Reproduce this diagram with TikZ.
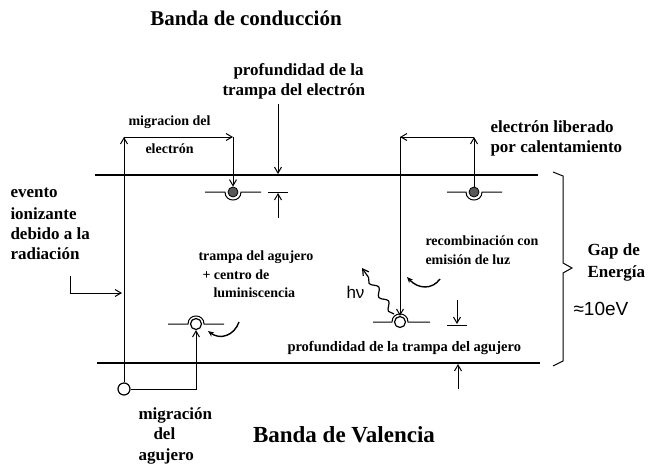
\documentclass[tikz,border=0pt]{standalone}
\usepackage{fontspec}
\setmainfont{Liberation Serif}
\newfontfamily\sansfont{Liberation Sans}
\usetikzlibrary{arrows.meta,decorations.pathmorphing}

\begin{document}
\begin{tikzpicture}[x=1pt,y=-1pt,
	>={Straight Barb[length=6pt,width=7pt]},
	every path/.style={line width=1pt},
	band/.style={line width=1.8pt},
	lbl/.style={anchor=mid west,inner sep=0pt,font=\bfseries\fontsize{#1}{#1}\selectfont},
	lbl/.default=14,
	title/.style={anchor=mid,inner sep=0pt,font=\bfseries\fontsize{#1}{#1}\selectfont},
	electron/.style={circle,draw,fill=black!65,inner sep=0pt,minimum size=10pt,line width=0.8pt},
	hole/.style={circle,draw,fill=white,inner sep=0pt,minimum size=11pt,line width=1.2pt},
	bent/.style={->,>={Stealth[length=6pt,width=5pt]},line width=1.4pt}]
\useasboundingbox (0,0) rectangle (651,467);

% bandas
\draw[band] (95,175) -- (538,175);
\draw[band] (97,363) -- (540,363);

% trampas
\draw (205,192) -- (225,192) .. controls (225,202.7) and (241,202.7) .. (241,192) -- (261,192);
\draw (447,192) -- (466,192) .. controls (466,202.7) and (482,202.7) .. (482,192) -- (502,192);
\draw (168,324) -- (188,324) .. controls (188,313.3) and (204,313.3) .. (204,324) -- (224,324);
\draw (373,322) -- (392,322) .. controls (392,311.3) and (408,311.3) .. (408,322) -- (430,322);
\node[electron] (etrapA) at (233,192) {};
\node[electron] (etrapB) at (474,192) {};
\node[hole] (htrapA) at (196,324) {};
\node[hole] (htrapB) at (400,322) {};
\node[hole,minimum size=12pt] (hstart) at (124,389) {};

% migracion del electron
\coordinate (upL) at (124,137);
\coordinate (upR) at (233,137);
\draw[->] (hstart) -- (upL);
\draw[->] (upL) -- (upR);
\draw[->] (upR) -- (etrapA);

% migracion del agujero
\draw[->] (hstart) -| (htrapA);

% electron liberado
\coordinate (relB) at (474,137);
\coordinate (relA) at (400,137);
\draw[->] (etrapB) -- (relB);
\draw[->] (relB) -- (relA);
\draw[->] (relA) -- (htrapB);

% evento ionizante
\coordinate (ionA) at (70,276);
\coordinate (ionB) at (122,293);
\draw[->] (ionA) |- (ionB);

% profundidades
\coordinate (edA) at (278,104);
\coordinate (edB) at (278,174);
\draw[->] (edA) -- (edB);
\draw (268,192) -- (288,192);
\coordinate (edC) at (278,218);
\coordinate (edD) at (278,193);
\draw[->] (edC) -- (edD);
\coordinate (hdA) at (457,300);
\coordinate (hdB) at (457,324);
\draw[->] (hdA) -- (hdB);
\draw (447,325) -- (467,325);
\coordinate (hdC) at (458,389);
\coordinate (hdD) at (458,364);
\draw[->] (hdC) -- (hdD);

% flechas curvas
\draw[bent] (239,322) .. controls (234,336) and (220,340) .. (208,331);
\draw[bent] (440,279) .. controls (432,290) and (418,289) .. (407,277);
\draw[->,line width=1.2pt,decorate,decoration={snake,amplitude=3pt,segment length=17pt,post length=6pt}] (394,314) -- (362,268);

% gap
\draw (553,172) -- (563,176) -- (563,263) -- (572,268) -- (563,273) -- (563,361) -- (553,366);

\path
	(246,23) node[title=21] (cond) {Banda de conducción}
	(344,440) node[title=23] (val) {Banda de Valencia}
	(233,73) node[lbl=17] (prof1) {profundidad de la}
	(222,93) node[lbl=17] (prof2) {trampa del electrón}
	(128,123) node[lbl] (mig1) {migracion del}
	(145,151) node[lbl] (mig2) {electrón}
	(490,130) node[lbl=17] (lib1) {electrón liberado}
	(490,150) node[lbl=17] (lib2) {por calentamiento}
	(10,195) node[lbl=17] (ev1) {evento}
	(10,217) node[lbl=17] (ev2) {ionizante}
	(10,237) node[lbl=17] (ev3) {debido a la}
	(10,257) node[lbl=17] (ev4) {radiación}
	(198,258) node[lbl] (tr1) {trampa del agujero}
	(202,277) node[lbl] (tr2) {+ centro de}
	(213,295) node[lbl] (tr3) {luminiscencia}
	(425,243) node[lbl] (rec1) {recombinación con}
	(425,262) node[lbl] (rec2) {emisión de luz}
	(287,349) node[lbl=14.5] (hprof) {profundidad de la trampa del agujero}
	(587,253) node[lbl=17] (gap1) {Gap de}
	(587,275) node[lbl=17] (gap2) {Energía}
	(573,313) node[anchor=mid west,inner sep=0pt,font=\sansfont\fontsize{19}{19}\selectfont] (ev) {≈10eV}
	(346,296) node[anchor=mid west,inner sep=0pt,font=\sansfont\fontsize{17}{17}\selectfont] (hnu) {hν}
	(138,417) node[lbl=17] (ag1) {migración}
	(153,437) node[lbl=17] (ag2) {del}
	(138,458) node[lbl=17] (ag3) {agujero};
\end{tikzpicture}
\end{document}
